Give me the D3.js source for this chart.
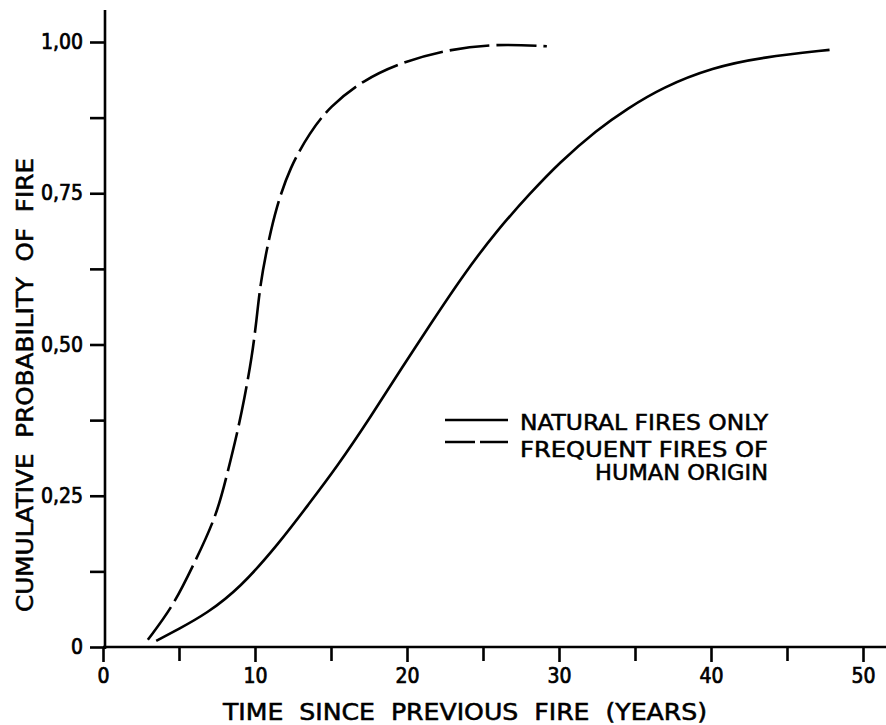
<!DOCTYPE html>
<html>
<head>
<meta charset="utf-8">
<script src="https://cdn.jsdelivr.net/npm/d3@7"></script>
<style>
  body { margin: 0; background: #fff; }
  svg { display: block; }
  text { font-family: "DejaVu Sans Condensed", "DejaVu Sans", sans-serif; fill: #000; }
</style>
</head>
<body>
<div class="chart"></div>
<script>
var w = 886,
    h = 725;

// curves: [years, cumulative probability]
var naturalFires = [
  [3.5, 0.01], [5.0, 0.03], [6.8, 0.055], [9.0, 0.097], [11.6, 0.172],
  [13.5, 0.235], [15.4, 0.298], [17.6, 0.38], [19.7, 0.463], [21.5, 0.532],
  [23.7, 0.615], [25.9, 0.688], [28.1, 0.75], [30.0, 0.80], [32.5, 0.855],
  [34.5, 0.89], [36.8, 0.925], [40.1, 0.958], [43.4, 0.975], [47.8, 0.987]
];
var humanFires = [
  [2.95, 0.012], [4.6, 0.067], [5.9, 0.133], [7.45, 0.215], [8.14, 0.283],
  [8.8, 0.35], [9.3, 0.41], [9.8, 0.48], [10.1, 0.54], [10.35, 0.60],
  [10.8, 0.661], [11.4, 0.727], [12.3, 0.793], [13.6, 0.85], [14.9, 0.893],
  [17.1, 0.937], [19.7, 0.967], [22.6, 0.987], [25.7, 0.997], [29.2, 0.993]
];

var xTicks = [0, 10, 20, 30, 40, 50];
var xMinorTicks = [5, 15, 25, 35, 45];
var yTicks = [0, 0.25, 0.5, 0.75, 1];
var yMinorTicks = [0.125, 0.375, 0.625, 0.875];

var legendLabels = ["NATURAL FIRES ONLY", "FREQUENT FIRES OF", "HUMAN ORIGIN"];
var xTitle = "TIME  SINCE  PREVIOUS  FIRE  (YEARS)";
var yTitle = "CUMULATIVE  PROBABILITY  OF  FIRE";

var svg = d3.select('.chart').append('svg').attr('width', w).attr('height', h);

var x = d3.scaleLinear().domain([0, 50]).range([103, 863]);
var y = d3.scaleLinear().domain([0, 1]).range([647, 42]);

var fmt = function (d) { return d === 0 ? "0" : d3.format(".2f")(d).replace(".", ","); };

// axis lines, a bit longer than the scale range as in the original
svg.append("line")
   .attr("x1", x(0)).attr("x2", w)
   .attr("y1", y(0)).attr("y2", y(0))
   .attr("stroke", "#000").attr("stroke-width", 2.6);
svg.append("line")
   .attr("x1", x(0) + 2).attr("x2", x(0) + 2)
   .attr("y1", y(0) + 2).attr("y2", 10)
   .attr("stroke", "#000").attr("stroke-width", 2.6);

var xAxis = svg.append("g")
   .attr("transform", "translate(0," + y(0) + ")")
   .call(d3.axisBottom(x).tickValues(xTicks).tickFormat(d3.format("d")).tickSize(15).tickPadding(6));
var xMinor = svg.append("g")
   .attr("transform", "translate(0," + y(0) + ")")
   .call(d3.axisBottom(x).tickValues(xMinorTicks).tickFormat("").tickSize(14));

var yAxis = svg.append("g")
   .attr("transform", "translate(" + (x(0) + 2) + ",0)")
   .call(d3.axisLeft(y).tickValues(yTicks).tickFormat(fmt).tickSize(15).tickPadding(7));
var yMinor = svg.append("g")
   .attr("transform", "translate(" + (x(0) + 2) + ",0)")
   .call(d3.axisLeft(y).tickValues(yMinorTicks).tickFormat("").tickSize(15));

[xAxis, xMinor, yAxis, yMinor].forEach(function (g) {
  g.select(".domain").remove();
  g.selectAll(".tick line").attr("stroke", "#000").attr("stroke-width", 2.6);
  g.selectAll(".tick text")
   .attr("font-family", '"DejaVu Sans Condensed", "DejaVu Sans", sans-serif')
   .attr("font-size", 21)
   .attr("stroke", "#000").attr("stroke-width", 0.7);
});

// curves
var line = d3.line()
   .x(function (d) { return x(d[0]); })
   .y(function (d) { return y(d[1]); })
   .curve(d3.curveBasis);

svg.append("path")
   .datum(naturalFires)
   .attr("d", line)
   .attr("fill", "none")
   .attr("stroke", "#000")
   .attr("stroke-width", 2.6);

svg.append("path")
   .datum(humanFires)
   .attr("d", line)
   .attr("fill", "none")
   .attr("stroke", "#000")
   .attr("stroke-width", 2.6)
   .attr("stroke-dasharray", "40,7");

// axis titles
svg.append("text")
   .attr("x", 223).attr("y", 720)
   .attr("textLength", 484).attr("lengthAdjust", "spacingAndGlyphs")
   .attr("font-size", 23)
   .attr("stroke", "#000").attr("stroke-width", 0.5)
   .style("white-space", "pre")
   .text(xTitle);

svg.append("text")
   .attr("transform", "translate(33,612) rotate(-90)")
   .attr("textLength", 454).attr("lengthAdjust", "spacingAndGlyphs")
   .attr("font-size", 23)
   .attr("stroke", "#000").attr("stroke-width", 0.5)
   .style("white-space", "pre")
   .text(yTitle);

// legend
var legend = svg.append("g");
legend.append("line")
   .attr("x1", 445).attr("x2", 508).attr("y1", 420).attr("y2", 420)
   .attr("stroke", "#000").attr("stroke-width", 2.6);
legend.append("line")
   .attr("x1", 445).attr("x2", 508).attr("y1", 442).attr("y2", 442)
   .attr("stroke", "#000").attr("stroke-width", 2.6)
   .attr("stroke-dasharray", "30,5");

var legendPos = [[520, 430, 248], [520, 457, 248], [595, 480, 173]];
legend.selectAll("text")
   .data(legendLabels)
   .enter().append("text")
   .attr("x", function (d, i) { return legendPos[i][0]; })
   .attr("y", function (d, i) { return legendPos[i][1]; })
   .attr("textLength", function (d, i) { return legendPos[i][2]; })
   .attr("lengthAdjust", "spacingAndGlyphs")
   .attr("font-size", 22)
   .attr("stroke", "#000").attr("stroke-width", 0.5)
   .text(function (d) { return d; });
</script>
</body>
</html>
